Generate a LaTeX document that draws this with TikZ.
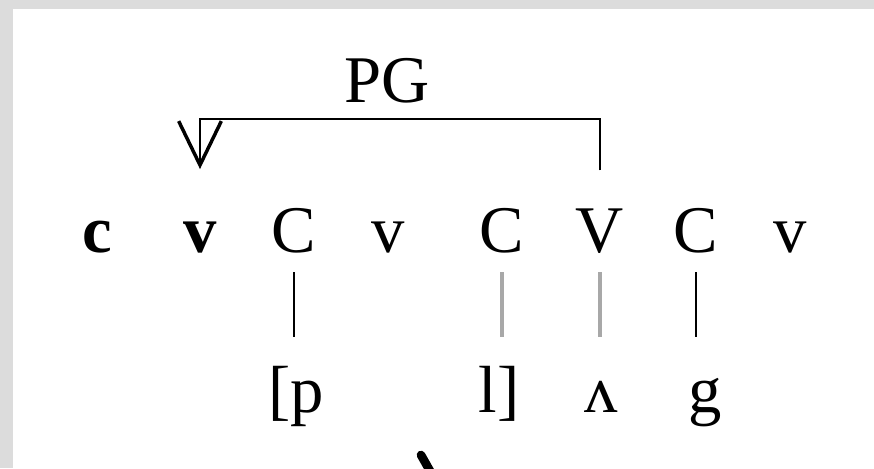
\documentclass[tikz,border=0pt]{standalone}
\usepackage{fontspec}
\setmainfont{Liberation Serif}
\usetikzlibrary{arrows.meta}
\definecolor{frame}{HTML}{DCDCDC}
\definecolor{faint}{HTML}{A8A8A8}
\tikzstyle{seg}=[inner sep=0pt, anchor=base, font=\fontsize{50}{60}\selectfont, text height=35pt, text depth=11pt]
\tikzstyle{link}=[line width=1.3pt, shorten <=4pt, shorten >=21pt]
\newcommand{\segm}{\node[seg]}
\begin{document}
\begin{tikzpicture}[x=0.75pt, y=-0.75pt]
            \clip (0,0) rectangle (874,468);
            \fill[frame] (0,0) rectangle (874,468);
            \fill[white] (13,9) rectangle (874,468);
            % skeleton
            \segm[font=\fontsize{50}{60}\selectfont\bfseries] (c) at (97,252){c};
            \segm[font=\fontsize{50}{60}\selectfont\bfseries] (v) at (200,252){v};
            \segm (C1) at (294,252){C};
            \segm (v2) at (388,252){v};
            \segm (C2) at (502,252){C};
            \segm (V) at (600,252){V};
            \segm (C3) at (696,252){C};
            \segm (v3) at (790,252){v};
            % melody
            \segm (p) at (296,412){[p};
            \segm (l) at (499,412){l]};
            \segm (A) at (601,412){ʌ};
            \segm (g) at (705,412){g};
            \segm[text depth=12.5pt] (PG) at (387,102){PG};
            \path
                (C1.south) edge[link] (C1.south |- p.north)
                (C2.south) edge[link, faint, line width=2.6pt] (C2.south |- l.north)
                (V.south) edge[link, faint, line width=2.6pt] (V.south |- A.north)
                (C3.south) edge[link] (C3.south |- g.north)
            ;
            \draw[line width=1.3pt, shorten <=26pt, shorten >=27pt, -{Straight Barb[length=33pt, width=32pt, line width=2.6pt]}]
                (V.north) -- (V.north |- PG.south) -| (v.north);
            \draw[line width=6.5pt, line cap=round] (421,455) -- (434,478);
        \end{tikzpicture}
\end{document}
